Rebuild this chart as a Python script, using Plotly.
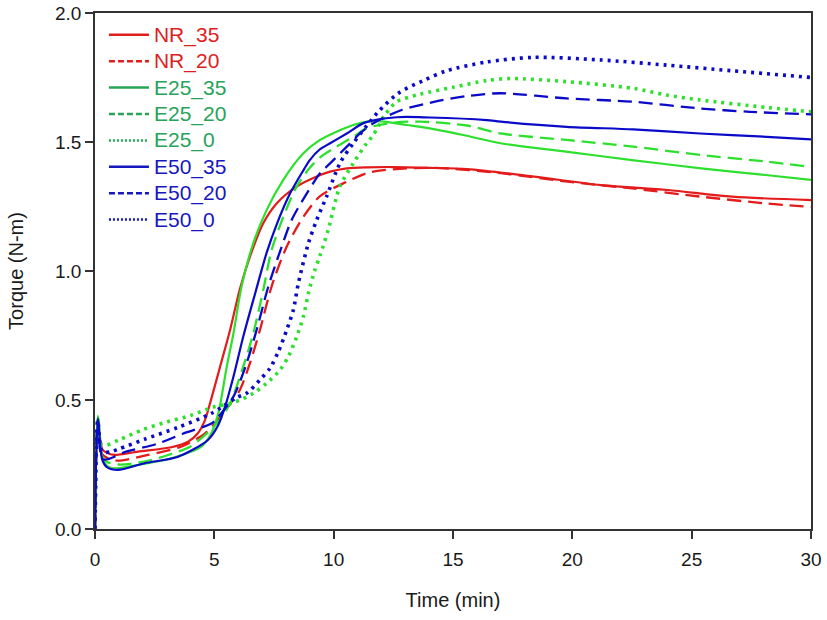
import plotly.graph_objects as go

# ---- data ----
nr35_t = [0, 0.12, 0.3, 0.5, 0.8, 1.8, 3.2, 3.9, 4.3, 4.6, 4.82, 5.24, 5.66, 6.07, 6.49, 7.05, 7.61, 8.45, 9.29, 9.85, 10.55, 11.4, 12.5, 14, 15.6, 18.4, 21.2, 24, 26.7, 30]
nr35_y = [0, 0.41, 0.31, 0.295, 0.287, 0.30, 0.317, 0.338, 0.37, 0.42, 0.487, 0.629, 0.771, 0.93, 1.055, 1.185, 1.262, 1.327, 1.366, 1.385, 1.398, 1.402, 1.403, 1.40, 1.395, 1.366, 1.333, 1.314, 1.288, 1.275]

nr20_t = [0, 0.12, 0.3, 0.54, 0.96, 2.22, 3.6, 4.6, 5.3, 5.7, 6.07, 6.49, 6.91, 7.4, 8.03, 8.73, 9.43, 10.55, 11.38, 12.1, 14.2, 17, 19.8, 22.5, 25.4, 28.1, 30]
nr20_y = [0, 0.40, 0.29, 0.274, 0.265, 0.287, 0.319, 0.37, 0.44, 0.49, 0.539, 0.642, 0.771, 0.94, 1.094, 1.21, 1.29, 1.346, 1.379, 1.391, 1.40, 1.379, 1.346, 1.32, 1.288, 1.262, 1.248]

e2535_t = [0, 0.12, 0.3, 0.5, 0.75, 1.8, 3.2, 4.45, 4.87, 5.17, 5.52, 5.8, 6.14, 6.63, 7.19, 7.89, 8.73, 9.43, 10.12, 10.82, 11.4, 12, 13.06, 14.03, 15.43, 17, 19.8, 22.5, 25.4, 28.1, 30]
e2535_y = [0, 0.44, 0.28, 0.245, 0.235, 0.248, 0.274, 0.319, 0.37, 0.45, 0.629, 0.758, 0.94, 1.107, 1.236, 1.353, 1.456, 1.508, 1.54, 1.566, 1.579, 1.58, 1.566, 1.553, 1.527, 1.495, 1.462, 1.43, 1.398, 1.372, 1.353]

e2520_t = [0, 0.12, 0.3, 0.5, 1, 2, 3, 4, 4.8, 5.2, 5.66, 6.21, 6.63, 7.05, 7.4, 7.89, 8.45, 9.0, 9.43, 10.12, 10.82, 11.38, 12.5, 13.62, 15.57, 17, 19.76, 22.55, 25.35, 28.14, 30]
e2520_y = [0, 0.43, 0.28, 0.26, 0.25, 0.26, 0.285, 0.32, 0.38, 0.42, 0.487, 0.629, 0.758, 0.926, 1.081, 1.21, 1.327, 1.40, 1.44, 1.482, 1.52, 1.553, 1.575, 1.579, 1.564, 1.533, 1.508, 1.482, 1.45, 1.424, 1.403]

e250_t = [0, 0.12, 0.25, 0.47, 1, 2, 3, 4, 4.94, 5.8, 6.63, 7.19, 7.75, 8.1, 8.45, 8.73, 8.94, 9.2, 9.43, 9.77, 10.26, 10.82, 11.38, 11.66, 12.15, 12.64, 13.62, 15, 16.41, 17.4, 19.76, 22.55, 23.95, 25.35, 28.14, 30]
e250_y = [0, 0.43, 0.33, 0.325, 0.345, 0.385, 0.415, 0.44, 0.472, 0.49, 0.526, 0.565, 0.616, 0.668, 0.745, 0.823, 0.913, 1.0, 1.06, 1.159, 1.327, 1.417, 1.495, 1.527, 1.605, 1.656, 1.685, 1.712, 1.738, 1.746, 1.734, 1.708, 1.682, 1.663, 1.634, 1.617]

e5035_t = [0, 0.12, 0.3, 0.5, 0.96, 2.08, 3.48, 4.73, 5.15, 5.45, 5.8, 6.21, 6.7, 7.19, 7.61, 8.17, 8.73, 9.0, 9.4, 9.85, 10.55, 11.3, 12.64, 14.03, 16.41, 17, 19.76, 22.55, 25.35, 28.14, 30]
e5035_y = [0, 0.43, 0.27, 0.24, 0.229, 0.255, 0.28, 0.345, 0.40, 0.474, 0.59, 0.745, 0.91, 1.07, 1.18, 1.30, 1.39, 1.43, 1.47, 1.495, 1.533, 1.575, 1.596, 1.595, 1.585, 1.579, 1.559, 1.549, 1.533, 1.52, 1.51]

e5020_t = [0, 0.12, 0.34, 1.3, 2.6, 3.7, 4.9, 5.15, 5.8, 6.35, 6.77, 7.26, 7.82, 8.24, 8.87, 9.43, 9.85, 10.55, 11.1, 11.7, 12.85, 14.38, 15.57, 16.97, 19.76, 22.55, 25.35, 27.44, 30]
e5020_y = [0, 0.42, 0.27, 0.30, 0.33, 0.37, 0.41, 0.433, 0.513, 0.642, 0.771, 0.939, 1.094, 1.198, 1.30, 1.379, 1.417, 1.482, 1.533, 1.575, 1.624, 1.659, 1.678, 1.689, 1.669, 1.656, 1.63, 1.617, 1.607]

e500_t = [0, 0.12, 0.3, 0.68, 1, 2.08, 3.48, 4.87, 5.95, 6.35, 6.91, 7.33, 7.68, 8.03, 8.31, 8.52, 8.94, 9.29, 9.7, 10.26, 10.82, 11.87, 12.71, 13.75, 14.73, 16.41, 18.35, 21.2, 23.95, 26.7, 30]
e500_y = [0, 0.42, 0.30, 0.30, 0.31, 0.348, 0.394, 0.448, 0.51, 0.526, 0.578, 0.623, 0.687, 0.771, 0.849, 0.952, 1.107, 1.198, 1.288, 1.417, 1.495, 1.617, 1.689, 1.738, 1.776, 1.81, 1.828, 1.818, 1.798, 1.776, 1.75]

names = ["NR_35", "NR_20", "E25_35", "E25_20", "E25_0", "E50_35", "E50_20", "E50_0"]
xs = [nr35_t, nr20_t, e2535_t, e2520_t, e250_t, e5035_t, e5020_t, e500_t]
ys = [nr35_y, nr20_y, e2535_y, e2520_y, e250_y, e5035_y, e5020_y, e500_y]

RED = "#e31b1b"
GREEN = "#2ee02e"
BLUE = "#0a0ac8"
LEG_RED = "#e01e1e"
LEG_GREEN = "#27a35a"
LEG_BLUE = "#1717c0"

line_col = [RED, RED, GREEN, GREEN, GREEN, BLUE, BLUE, BLUE]
leg_col = [LEG_RED, LEG_RED, LEG_GREEN, LEG_GREEN, LEG_GREEN, LEG_BLUE, LEG_BLUE, LEG_BLUE]
SOLID, DASH, DOT = "solid", "14px,7px", "3px,5px"
dashes = [SOLID, DASH, SOLID, DASH, DOT, SOLID, DASH, DOT]
widths = [2.2, 2.3, 2.2, 2.3, 3.6, 2.2, 2.3, 3.6]

fig = go.Figure()
for n, x, y, c, d, w in zip(names, xs, ys, line_col, dashes, widths):
    fig.add_trace(go.Scatter(x=x, y=y, mode="lines", showlegend=False,
                             line=dict(color=c, dash=d, width=w, shape="spline", smoothing=0.8),
                             hoverinfo="skip"))

leg_dash = [SOLID, "6px,3px", SOLID, "6px,3px", "2px,2px", SOLID, "6px,3px", "2px,2px"]
for i, (n, c, d) in enumerate(zip(names, leg_col, leg_dash)):
    fig.add_trace(go.Scatter(x=[None], y=[None], mode="lines",
                             name=f'<span style="color:{c};font-size:21px">{n}</span>',
                             legendgroup=f"g{i}",
                             line=dict(color=c, dash=d, width=2.5)))

FONT = "Liberation Sans, Arial, sans-serif"
fig.update_layout(
    width=827, height=620,
    margin=dict(l=95, r=16, t=13, b=91, autoexpand=False),
    paper_bgcolor="white", plot_bgcolor="white",
    font=dict(family=FONT, size=19, color="#1a1a1a"),
    showlegend=True,
    legend=dict(x=0.0125, y=0.993, xanchor="left", yanchor="top",
                bgcolor="rgba(0,0,0,0)", borderwidth=0,
                font=dict(family=FONT, size=18),
                traceorder="grouped", tracegroupgap=0, itemwidth=40),
    xaxis=dict(range=[0, 30], tickvals=[0, 5, 10, 15, 20, 25, 30],
               showgrid=False, zeroline=False, showline=True, linecolor="#333", linewidth=1.5,
               mirror=True, ticks="outside", ticklen=8, tickcolor="#333", tickwidth=1.5,
               automargin=False, ticklabeloverflow="allow", ticklabelstandoff=4,
               title=dict(text="Time (min)", font=dict(size=20), standoff=24),
               tickfont=dict(size=19)),
    yaxis=dict(range=[0, 2.0], tickvals=[0, 0.5, 1.0, 1.5, 2.0],
               ticktext=["0.0", "0.5", "1.0", "1.5", "2.0"],
               showgrid=False, zeroline=False, showline=True, linecolor="#333", linewidth=1.5,
               mirror=True, ticks="outside", ticklen=8, tickcolor="#333", tickwidth=1.5,
               automargin=False, ticklabeloverflow="allow",
               title=dict(text="Torque (N-m)", font=dict(size=20), standoff=26),
               tickfont=dict(size=19)),
)

fig.write_html("out.html", config={"displayModeBar": False},
               post_script="document.body.style.margin='0px';")
